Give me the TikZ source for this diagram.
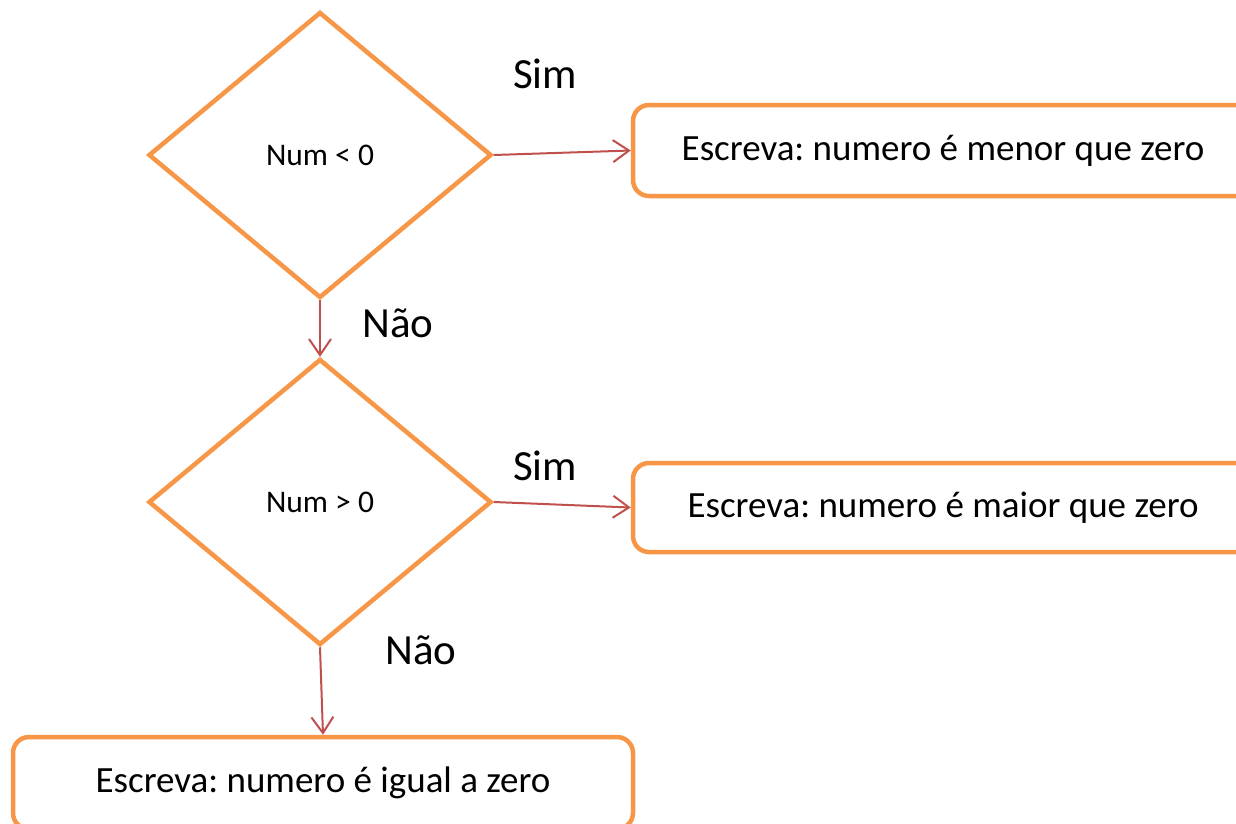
\documentclass[tikz,border=0pt]{standalone}
\usepackage{fontspec}
\setmainfont{Carlito}
\usetikzlibrary{shapes.geometric,arrows.meta}
\definecolor{boxorange}{HTML}{F79646}
\definecolor{arrowred}{HTML}{C0504D}
\frenchspacing
\tikzset{
  decision/.style={diamond, draw=boxorange, line width=4.5pt, inner sep=0pt,
    minimum width=343pt, minimum height=286pt, font=\fontsize{31.5}{36}\selectfont},
  outbox/.style={rectangle, rounded corners=16pt, draw=boxorange, line width=4.5pt,
    inner sep=0pt, font=\fontsize{37}{44}\selectfont},
  flow/.style={draw=arrowred, line width=2pt, -{Straight Barb[length=16pt,width=22pt]}},
  answer/.style={font=\fontsize{43}{50}\selectfont, inner sep=0pt, anchor=base}
}
\begin{document}
\begin{tikzpicture}[x=1pt,y=-1pt]
  \useasboundingbox (0,0) rectangle (1236,823);
  \clip (0,0) rectangle (1236,823);
  \fill[white] (0,0) rectangle (1236,823);

  % decisions
  \node[decision] (d1) at (320,155) {\raisebox{-5pt}{Num < 0}};
  \node[decision] (d2) at (320,502) {\raisebox{-5pt}{Num > 0}};

  % outputs
  \node[outbox, minimum width=620pt, minimum height=91pt] (b1) at (943,150.5)
    {\raisebox{-2pt}{Escreva: numero é menor que zero}};
  \node[outbox, minimum width=620pt, minimum height=89pt] (b2) at (943,507.5)
    {\raisebox{-2pt}{Escreva: numero é maior que zero}};
  \node[outbox, minimum width=620pt, minimum height=92pt] (b3) at (323,783)
    {\raisebox{-2pt}{Escreva: numero é igual a zero}};

  % connectors
  \draw[flow] (d1.east) -- (b1.west);
  \draw[flow] (d1.south) -- (d2.north);
  \draw[flow] (d2.east) -- (b2.west);
  \draw[flow] (d2.south) -- (b3.north);

  % branch labels
  \node[answer] (s1) at (545,88) {Sim};
  \node[answer] (n1) at (398,337) {Não};
  \node[answer] (s2) at (545,480) {Sim};
  \node[answer] (n2) at (421,664) {Não};
\end{tikzpicture}
\end{document}
